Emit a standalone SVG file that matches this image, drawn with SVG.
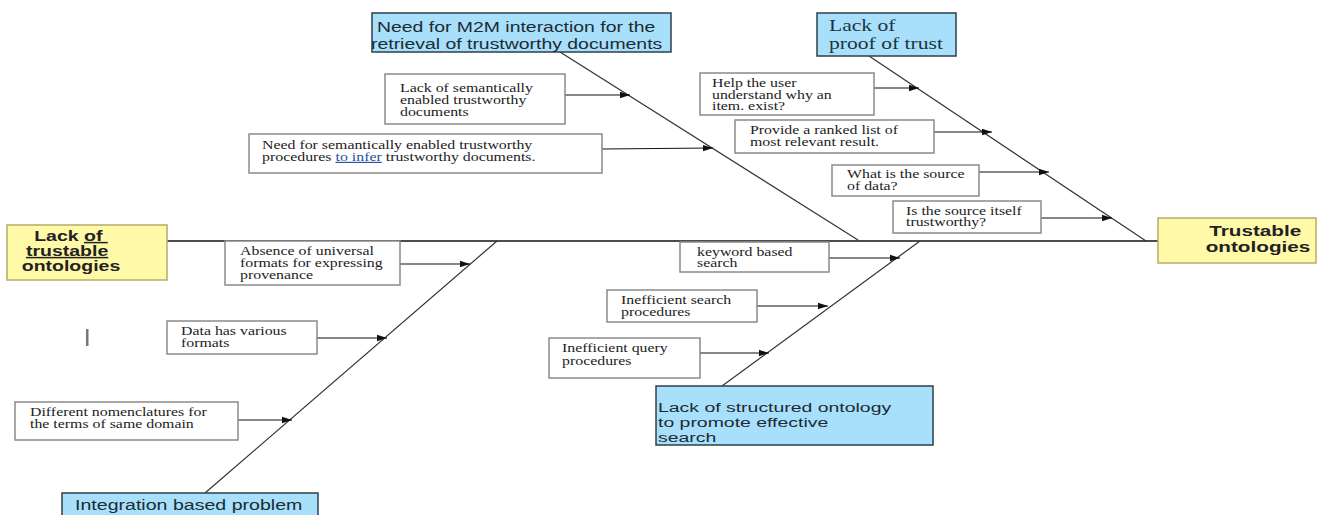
<svg xmlns="http://www.w3.org/2000/svg" width="1320" height="515" viewBox="0 0 1320 515">
  <defs>
    <marker id="arrow" markerWidth="10" markerHeight="8" refX="10" refY="4" orient="auto" markerUnits="userSpaceOnUse">
      <path d="M0,0.8 L10,4 L0,7.2 Z" fill="#111"/>
    </marker>
    <style>
      .bone { stroke: #333; stroke-width: 1.2; fill: none; }
      .spine { stroke: #111; stroke-width: 1.4; fill: none; }
      .feed { stroke: #111; stroke-width: 1.2; fill: none; marker-end: url(#arrow); }
      .cause { fill: #fff; stroke: #8a8a8a; stroke-width: 1.5; }
      .head { fill: #fff9a8; stroke: #b3ad6a; stroke-width: 1.5; }
      .cat { fill: #a8e0fb; stroke: #2f3f4a; stroke-width: 1.5; }
      .small { font-family: "Liberation Serif", "Times New Roman", serif; font-size: 11.5px; fill: #222; }
      .big { font-family: "Liberation Sans", Arial, sans-serif; font-size: 15px; font-weight: bold; fill: #222; }
      .catText { font-family: "Liberation Sans", Arial, sans-serif; font-size: 14.5px; fill: #1e2a33; }
      .catSerif { font-family: "Liberation Serif", "Times New Roman", serif; font-size: 17px; fill: #1e3540; }
    </style>
  </defs>
  <rect width="1320" height="515" fill="#fff"/>

  <!-- bones and feeding arrows -->
  <g id="connectors">
    <line class="spine" x1="167" y1="241" x2="1158" y2="241"/>
    <line class="bone" x1="560" y1="52" x2="858" y2="240"/>
    <line class="bone" x1="869" y1="56" x2="1146" y2="241"/>
    <line class="bone" x1="497" y1="241" x2="205" y2="493"/>
    <line class="bone" x1="920" y1="241" x2="722" y2="386"/>

    <line class="feed" x1="565" y1="95" x2="630" y2="95"/>
    <line class="feed" x1="602" y1="149" x2="713" y2="148"/>
    <line class="feed" x1="874" y1="88" x2="919" y2="88"/>
    <line class="feed" x1="934" y1="132" x2="992" y2="132"/>
    <line class="feed" x1="979" y1="172" x2="1049" y2="172"/>
    <line class="feed" x1="1041" y1="218" x2="1112" y2="218"/>
    <line class="feed" x1="400" y1="264" x2="470" y2="264"/>
    <line class="feed" x1="317" y1="338" x2="387" y2="338"/>
    <line class="feed" x1="230" y1="420" x2="292" y2="420"/>
    <line class="feed" x1="829" y1="258" x2="900" y2="258"/>
    <line class="feed" x1="757" y1="306" x2="828" y2="306"/>
    <line class="feed" x1="700" y1="353" x2="769" y2="353"/>
  </g>

  <!-- heads -->
  <g id="problem">
    <rect class="head" x="7" y="225" width="160" height="55"/>
    <text class="big" text-anchor="middle" transform="translate(71,0) scale(1.3,1)"><tspan x="0" y="241">Lack <tspan text-decoration="underline">of </tspan></tspan><tspan x="-3" y="256" text-decoration="underline">trustable</tspan><tspan x="0" y="271">ontologies</tspan></text>
  </g>
  <g id="goal">
    <rect class="head" x="1158" y="218" width="158" height="45"/>
    <text class="big" text-anchor="middle" transform="translate(1258,0) scale(1.38,1)"><tspan x="-2" y="236">Trustable</tspan><tspan x="0" y="252">ontologies</tspan></text>
  </g>

  <!-- categories -->
  <g id="cat-m2m">
    <rect class="cat" x="372" y="13" width="299" height="39"/>
    <text class="catText" transform="translate(377,0) scale(1.34,1)"><tspan x="0" y="32">Need for M2M interaction for the</tspan><tspan x="-4.5" y="49">retrieval of trustworthy documents</tspan></text>
  </g>
  <g id="cat-proof">
    <rect class="cat" x="817" y="13" width="139" height="43"/>
    <text class="catSerif" transform="translate(829,0) scale(1.27,1)"><tspan x="0" y="31">Lack of</tspan><tspan x="0" y="49">proof of trust</tspan></text>
  </g>
  <g id="cat-integration">
    <rect class="cat" x="62" y="493" width="256" height="26"/>
    <text class="catText" transform="translate(75,0) scale(1.35,1)"><tspan x="0" y="510">Integration based problem</tspan></text>
  </g>
  <g id="cat-search">
    <rect class="cat" x="656" y="386" width="277" height="59"/>
    <text class="catText" style="font-size:13.5px" transform="translate(658,0) scale(1.44,1)"><tspan x="0" y="412">Lack of structured ontology</tspan><tspan x="0" y="427">to promote effective</tspan><tspan x="0" y="442">search</tspan></text>
  </g>

  <!-- causes -->
  <g id="cause-semantic-docs">
    <rect class="cause" x="385" y="74" width="180" height="50"/>
    <text class="small" transform="translate(400,0) scale(1.38,1)"><tspan x="0" y="92">Lack of semantically</tspan><tspan x="0" y="104">enabled trustworthy</tspan><tspan x="0" y="116">documents</tspan></text>
  </g>
  <g id="cause-semantic-procs">
    <rect class="cause" x="249" y="134" width="353" height="39"/>
    <text class="small" transform="translate(262,0) scale(1.38,1)"><tspan x="0" y="149">Need for semantically enabled trustworthy</tspan><tspan x="0" y="161">procedures <tspan fill="#2a4fa0" text-decoration="underline">to  infer</tspan> trustworthy documents.</tspan></text>
  </g>
  <g id="cause-why">
    <rect class="cause" x="700" y="73" width="174" height="42"/>
    <text class="small" transform="translate(712,0) scale(1.38,1)"><tspan x="0" y="87">Help the user</tspan><tspan x="0" y="99">understand why an</tspan><tspan x="0" y="110">item. exist?</tspan></text>
  </g>
  <g id="cause-ranked">
    <rect class="cause" x="735" y="120" width="199" height="33"/>
    <text class="small" transform="translate(750,0) scale(1.38,1)"><tspan x="0" y="134">Provide a ranked list of</tspan><tspan x="0" y="146">most relevant result.</tspan></text>
  </g>
  <g id="cause-source">
    <rect class="cause" x="832" y="165" width="147" height="31"/>
    <text class="small" transform="translate(847,0) scale(1.38,1)"><tspan x="0" y="178">What is the source</tspan><tspan x="0" y="190">of data?</tspan></text>
  </g>
  <g id="cause-trustworthy">
    <rect class="cause" x="893" y="201" width="148" height="32"/>
    <text class="small" transform="translate(906,0) scale(1.38,1)"><tspan x="0" y="215">Is the source itself</tspan><tspan x="0" y="226">trustworthy?</tspan></text>
  </g>
  <g id="cause-provenance">
    <rect class="cause" x="225" y="241" width="175" height="44"/>
    <text class="small" transform="translate(240,0) scale(1.38,1)"><tspan x="0" y="255">Absence of universal</tspan><tspan x="0" y="267">formats for expressing</tspan><tspan x="0" y="279">provenance</tspan></text>
  </g>
  <g id="cause-formats">
    <rect class="cause" x="167" y="321" width="150" height="33"/>
    <text class="small" transform="translate(181,0) scale(1.38,1)"><tspan x="0" y="335">Data has various</tspan><tspan x="0" y="347">formats</tspan></text>
  </g>
  <g id="cause-nomenclature">
    <rect class="cause" x="15" y="402" width="223" height="38"/>
    <text class="small" transform="translate(30,0) scale(1.38,1)"><tspan x="0" y="416">Different nomenclatures for</tspan><tspan x="0" y="428">the terms of same domain</tspan></text>
  </g>
  <g id="cause-keyword">
    <rect class="cause" x="680" y="242" width="149" height="30"/>
    <text class="small" transform="translate(697,0) scale(1.38,1)"><tspan x="0" y="256">keyword based</tspan><tspan x="0" y="267">search</tspan></text>
  </g>
  <g id="cause-search-procs">
    <rect class="cause" x="607" y="290" width="150" height="32"/>
    <text class="small" transform="translate(621,0) scale(1.38,1)"><tspan x="0" y="304">Inefficient search</tspan><tspan x="0" y="316">procedures</tspan></text>
  </g>
  <g id="cause-query-procs">
    <rect class="cause" x="549" y="338" width="151" height="40"/>
    <text class="small" transform="translate(562,0) scale(1.38,1)"><tspan x="0" y="352">Inefficient query</tspan><tspan x="0" y="365">procedures</tspan></text>
  </g>

  <!-- stray cursor mark -->
  <rect x="86" y="329" width="2.5" height="17" fill="#777"/>
</svg>
